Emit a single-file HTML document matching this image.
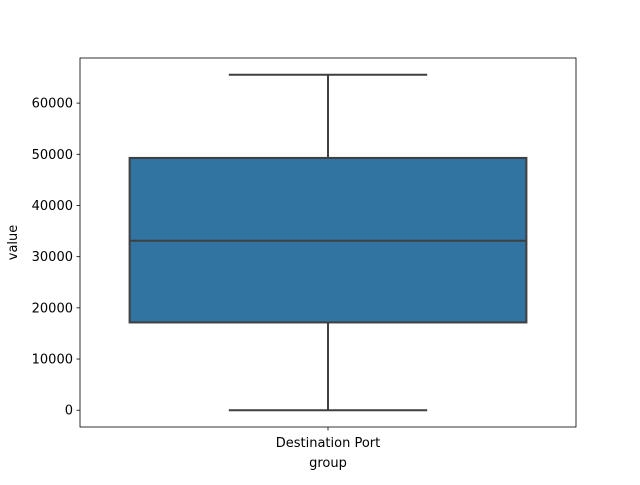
<!DOCTYPE html>
<html><head><meta charset="utf-8"><style>
body{margin:0;background:#fff;font-family:"Liberation Sans","DejaVu Sans",sans-serif;}
text{font-family:"DejaVu Sans","Liberation Sans",sans-serif;font-size:13px;fill:#000;}
</style></head><body>
<svg id="chart" width="640" height="480" xmlns="http://www.w3.org/2000/svg"></svg>
<script>
const categories = ["Destination Port"];
const whiskerLow = [0];
const q1Values = [17150];
const medians = [33120];
const q3Values = [49290];
const whiskerHigh = [65535];
const yTicks = [0, 10000, 20000, 30000, 40000, 50000, 60000];

const svg = document.getElementById('chart');
const NS = 'http://www.w3.org/2000/svg';
const L = 80, R = 576, T = 58, B = 427;
const yMin = -3277, yMax = 68812;
const y = v => B - (v - yMin) / (yMax - yMin) * (B - T);
const bandW = (R - L) / categories.length;
const xc = i => L + bandW * (i + 0.5);
function mk(tag, attrs, parent) {
  const e = document.createElementNS(NS, tag);
  for (const k in attrs) e.setAttribute(k, attrs[k]);
  (parent || svg).appendChild(e);
  return e;
}
categories.forEach((c, i) => {
  const g = mk('g', {});
  
  
  const cx = xc(i), hw = bandW * 0.4, cw = bandW * 0.2;
  const st = {stroke: '#3f3f3f', 'stroke-width': 2};
  mk('line', Object.assign({x1: cx, x2: cx, y1: y(whiskerLow[i]), y2: y(q1Values[i])}, st), g);
  mk('line', Object.assign({x1: cx, x2: cx, y1: y(q3Values[i]), y2: y(whiskerHigh[i])}, st), g);
  mk('line', Object.assign({x1: cx - cw, x2: cx + cw, y1: y(whiskerLow[i]), y2: y(whiskerLow[i])}, st), g);
  mk('line', Object.assign({x1: cx - cw, x2: cx + cw, y1: y(whiskerHigh[i]), y2: y(whiskerHigh[i])}, st), g);
  mk('rect', Object.assign({x: cx - hw, y: y(q3Values[i]), width: hw * 2, height: y(q1Values[i]) - y(q3Values[i]), fill: '#3274a1'}, st), g);
  mk('line', Object.assign({x1: cx - hw, x2: cx + hw, y1: y(medians[i]), y2: y(medians[i])}, st), g);
  mk('line', {x1: cx, x2: cx, y1: B, y2: B + 3.5, stroke: '#000', 'stroke-width': 0.8});
  const t = mk('text', {x: cx, y: B + 20, 'text-anchor': 'middle'});
  t.textContent = c;
  
  
});
yTicks.forEach(v => {
  mk('line', {x1: L - 3.5, x2: L, y1: y(v), y2: y(v), stroke: '#000', 'stroke-width': 0.8});
  const t = mk('text', {x: L - 7, y: y(v) + 4.5, 'text-anchor': 'end'});
  t.textContent = v;
  
  
});
const frame = mk('rect', {x: L, y: T, width: R - L, height: B - T, fill: 'none', stroke: '#000', 'stroke-width': 0.8});


const xt = mk('text', {x: (L + R) / 2, y: 467, 'text-anchor': 'middle'});
xt.textContent = 'group';


const yt = mk('text', {x: 17, y: (T + B) / 2, 'text-anchor': 'middle', transform: 'rotate(-90 17 ' + (T + B) / 2 + ')'});
yt.textContent = 'value';


</script>
</body></html>
